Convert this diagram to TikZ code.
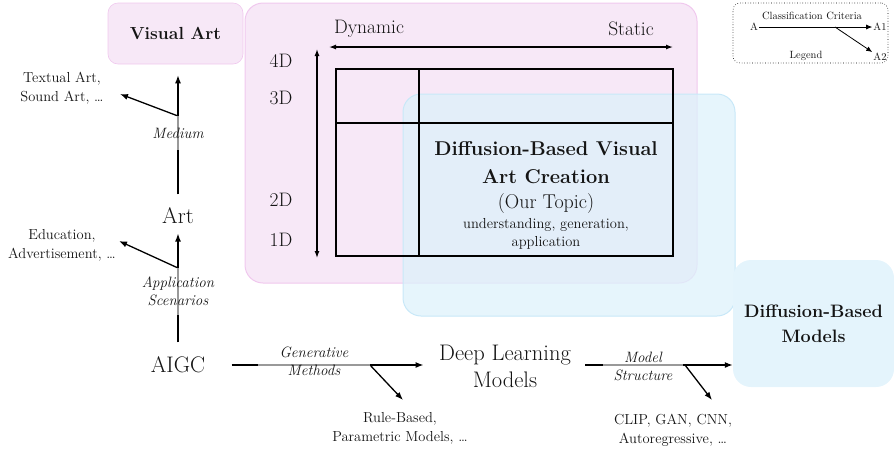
\documentclass[tikz,border=0pt]{standalone}
\usetikzlibrary{arrows.meta}
\definecolor{pinkfill}{RGB}{247,232,247}
\definecolor{pinkdraw}{RGB}{240,200,238}
\definecolor{bluefill}{RGB}{221,241,251}
\definecolor{bluedraw}{RGB}{200,232,248}
\definecolor{dbmfill}{RGB}{228,244,252}
\definecolor{ink}{RGB}{20,20,20}
\tikzset{
  arr/.style={-{Latex[length=8pt,width=6pt]}, line width=1.3pt},
  dblarr/.style={{Latex[length=7pt,width=5pt]}-{Latex[length=7pt,width=5pt]}, line width=1.3pt},
  plain/.style={line width=1.3pt},
  bigtxt/.style={font=\fontsize{22.5}{27}\selectfont, align=center, text=ink},
  sidetxt/.style={font=\fontsize{14.5}{19}\selectfont, align=center, text=ink},
  dimtxt/.style={font=\fontsize{19.5}{22}\selectfont, text=ink},
  lbl/.style={font=\itshape\fontsize{15}{18}\selectfont, align=center, fill=white, fill opacity=0.6, text opacity=1, inner sep=0pt, text=ink},
  legtxt/.style={font=\fontsize{10.5}{12}\selectfont, inner sep=1pt, text=ink},
  legarr/.style={-{Latex[length=6pt,width=5pt]}, line width=0.8pt},
}
\begin{document}
\begin{tikzpicture}[x=1pt,y=-1pt]
\useasboundingbox (0,0) rectangle (894,451);

% background regions
\node[fill=pinkfill, draw=pinkdraw, line width=0.6pt, rounded corners=10pt, minimum width=135pt, minimum height=61pt, font=\bfseries\fontsize{17.5}{20}\selectfont, text=ink] (visart) at (175.5,33.5) {Visual Art};
\node[fill=pinkfill, draw=pinkdraw, line width=1pt, rounded corners=18pt, minimum width=452pt, minimum height=280pt] (pinkbox) at (471,143) {};
\node[fill=bluefill, draw=bluedraw, line width=1pt, fill opacity=0.75, rounded corners=18pt, minimum width=332pt, minimum height=222pt] (bluebox) at (569,205) {};
\node[fill=dbmfill, rounded corners=18pt, minimum width=161pt, minimum height=127pt, font=\bfseries\fontsize{18}{25}\selectfont, align=center, text depth=0pt, text=ink] (dbm) at (813.5,323.5) {Diffusion-Based\\Models};

% legend
\node[draw, dotted, line width=0.6pt, rounded corners=7pt, minimum width=155pt, minimum height=60pt] (legend) at (810.5,33) {};
\node[legtxt] (la) at (754,27) {A};
\node[legtxt] (la1) at (880,27) {A1};
\node[legtxt] (la2) at (880,57) {A2};
\node[legtxt] (lcc) at (812,16) {Classification Criteria};
\node[legtxt] (lleg) at (806,56) {Legend};
\coordinate (lb) at (835,27);
\draw[line width=0.8pt] (la.east) -- (lb);
\draw[legarr] (lb) -- (la1.west);
\draw[legarr] (lb) -- (la2.north west);

% dimension axes
\node[dimtxt] (dyn) at (369,29) {Dynamic};
\node[dimtxt] (sta) at (631,29) {Static};
\coordinate (hl) at (329,47);
\coordinate (hr) at (673,47);
\draw[dblarr] (hl) -- (hr);
\coordinate (vt) at (317,49);
\coordinate (vb) at (317,258);
\draw[dblarr] (vt) -- (vb);
\node[dimtxt] (d4) at (281,61) {4D};
\node[dimtxt] (d3) at (281,98) {3D};
\node[dimtxt] (d2) at (281,200) {2D};
\node[dimtxt] (d1) at (281,240) {1D};

% grid
\draw[line width=1.4pt] (336,69) rectangle (673,256);
\draw[line width=1.4pt] (419,69) -- (419,256);
\draw[line width=1.4pt] (336,123) -- (673,123);

% topic text
\node[anchor=base, font=\bfseries\fontsize{20}{25}\selectfont, text=ink] (t1) at (546,155) {Diffusion-Based Visual};
\node[anchor=base, font=\bfseries\fontsize{20}{25}\selectfont, text=ink] (t2) at (546,183) {Art Creation};
\node[anchor=base, font=\fontsize{20}{22}\selectfont, text=ink] (t3) at (546,208) {(Our Topic)};
\node[anchor=base, font=\fontsize{14.5}{17}\selectfont, text=ink] (t4) at (546,228) {understanding, generation,};
\node[anchor=base, font=\fontsize{14.5}{17}\selectfont, text=ink] (t5) at (546,246) {application};

% left chain
\node[bigtxt] (art) at (178,216) {Art};
\node[bigtxt] (aigc) at (178,365) {AIGC};
\node[bigtxt] (dl) at (505,366) {Deep Learning\\Models};
\node[sidetxt] (textual) at (62,88) {Textual Art,\\Sound Art, \dots};
\node[sidetxt] (edu) at (62,245) {Education,\\Advertisement, \dots};
\node[sidetxt] (rule) at (400,428) {Rule-Based,\\Parametric Models, \dots};
\node[sidetxt] (clip) at (673,430) {CLIP, GAN, CNN,\\Autoregressive, \dots};

\coordinate (b1) at (178,116);
\coordinate (b2) at (178,268);
\coordinate (b3) at (370,365);
\coordinate (b4) at (685,365);
\coordinate (tt) at (120,94);
\coordinate (et) at (119,241);
\coordinate (rt) at (403,400);
\coordinate (ct) at (712,400);

\draw[plain, shorten <=10pt] (art.north) -- (b1);
\draw[arr, shorten >=11pt] (b1) -- (b1 |- visart.south);
\draw[arr] (b1) -- (tt);
\draw[plain, shorten <=11pt] (aigc.north) -- (b2);
\draw[arr, shorten >=6pt] (b2) -- (art.south);
\draw[arr] (b2) -- (et);
\draw[plain, shorten <=23pt] (aigc.east) -- (b3);
\draw[arr, shorten >=12pt] (b3) -- (dl.west |- b3);
\draw[arr] (b3) -- (rt);
\draw[plain, shorten <=11pt] (dl.east |- b4) -- (b4);
\draw[arr] (b4) -- (dbm.west |- b4);
\draw[arr] (b4) -- (ct);

% criteria labels
\node[lbl, minimum height=34pt] (medium) at (178,133) {Medium};
\node[lbl, minimum height=47pt] (appsc) at (178,291) {Application\\Scenarios};
\node[lbl, minimum width=112pt] (genm) at (314,361) {Generative\\Methods};
\node[lbl, minimum width=80pt] (mstr) at (643,366) {Model\\Structure};
\end{tikzpicture}
\end{document}
